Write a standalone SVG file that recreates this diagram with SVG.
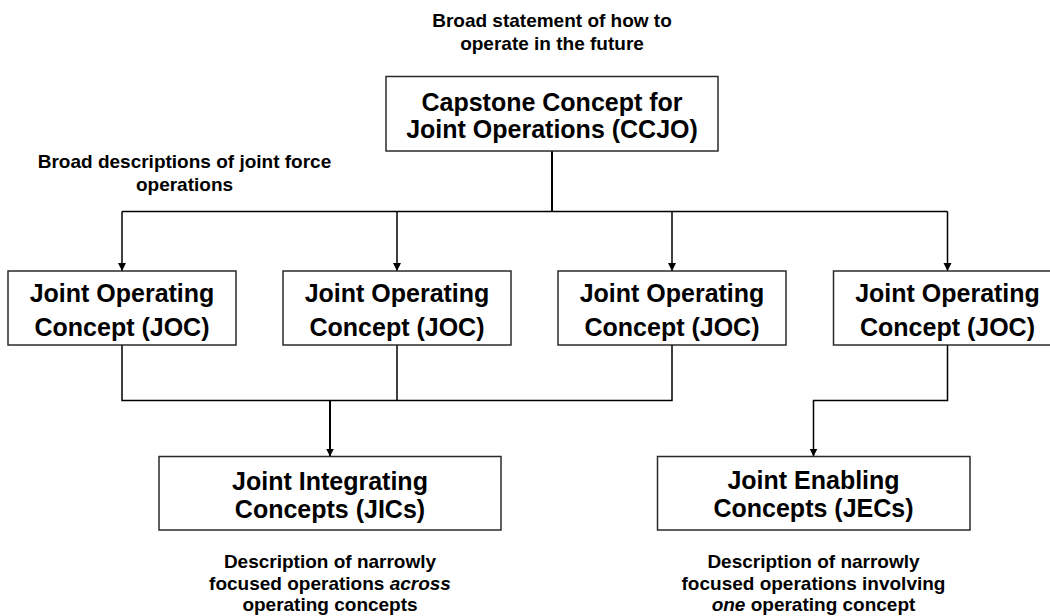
<svg xmlns="http://www.w3.org/2000/svg" width="1050" height="616" viewBox="0 0 1050 616">
  <defs>
    <marker id="arrow" markerUnits="userSpaceOnUse" markerWidth="9" markerHeight="9" refX="8" refY="4" orient="auto">
      <path d="M0,0 L8,4 L0,8 z" fill="#000"/>
    </marker>
    <style>
      text { font-family: "Liberation Sans", Arial, sans-serif; font-weight: bold; fill: #000; text-anchor: middle; }
      .node { font-size: 25px; }
      .note { font-size: 19px; }
      .box { fill: #fff; stroke: #2a2a2a; stroke-width: 1.5; }
      .link { fill: none; stroke: #000; stroke-width: 1.5; }
      .trunk { fill: none; stroke: #000; stroke-width: 2; }
      .em { font-style: italic; }
    </style>
  </defs>

  <rect width="1050" height="616" fill="#fff"/>

  <!-- connectors -->
  <g id="connectors">
    <path class="trunk" d="M552,151 V211.5"/>
    <path class="link" d="M122,211.5 H947.5"/>
    <path class="link" d="M122,211.5 V271" marker-end="url(#arrow)"/>
    <path class="link" d="M397,211.5 V271" marker-end="url(#arrow)"/>
    <path class="link" d="M672,211.5 V271" marker-end="url(#arrow)"/>
    <path class="link" d="M947.5,211.5 V271" marker-end="url(#arrow)"/>
    <path class="link" d="M122,345 V400.5 H672 V345"/>
    <path class="link" d="M397,345 V400.5"/>
    <path class="trunk" d="M330,400.5 V456.5" marker-end="url(#arrow)"/>
    <path class="link" d="M947.5,345 V400.5 H813.5 V456.5" marker-end="url(#arrow)"/>
  </g>

  <!-- annotations -->
  <g id="note-ccjo">
    <text class="note" x="552" y="27">Broad statement of how to</text>
    <text class="note" x="552" y="50">operate in the future</text>
  </g>
  <g id="note-joc">
    <text class="note" x="184.5" y="168">Broad descriptions of joint force</text>
    <text class="note" x="184.5" y="190.5">operations</text>
  </g>
  <g id="note-jic">
    <text class="note" x="330" y="568">Description of narrowly</text>
    <text class="note" x="330" y="589.5">focused operations <tspan class="em">across</tspan></text>
    <text class="note" x="330" y="611">operating concepts</text>
  </g>
  <g id="note-jec">
    <text class="note" x="813.5" y="568">Description of narrowly</text>
    <text class="note" x="813.5" y="589.5">focused operations involving</text>
    <text class="note" x="813.5" y="611"><tspan class="em">one</tspan> operating concept</text>
  </g>

  <!-- nodes -->
  <g id="ccjo">
    <rect class="box" x="386" y="76.5" width="332" height="74.5"/>
    <text class="node" x="552" y="110.5">Capstone Concept for</text>
    <text class="node" x="552" y="138">Joint Operations (CCJO)</text>
  </g>
  <g id="joc1">
    <rect class="box" x="8" y="271" width="228" height="74"/>
    <text class="node" x="122" y="302">Joint Operating</text>
    <text class="node" x="122" y="335.5">Concept (JOC)</text>
  </g>
  <g id="joc2">
    <rect class="box" x="283" y="271" width="228" height="74"/>
    <text class="node" x="397" y="302">Joint Operating</text>
    <text class="node" x="397" y="335.5">Concept (JOC)</text>
  </g>
  <g id="joc3">
    <rect class="box" x="558" y="271" width="228" height="74"/>
    <text class="node" x="672" y="302">Joint Operating</text>
    <text class="node" x="672" y="335.5">Concept (JOC)</text>
  </g>
  <g id="joc4">
    <rect class="box" x="833.5" y="271" width="228" height="74"/>
    <text class="node" x="947.5" y="302">Joint Operating</text>
    <text class="node" x="947.5" y="335.5">Concept (JOC)</text>
  </g>
  <g id="jic">
    <rect class="box" x="159" y="456.5" width="342" height="73.5"/>
    <text class="node" x="330" y="489.5">Joint Integrating</text>
    <text class="node" x="330" y="517.5">Concepts (JICs)</text>
  </g>
  <g id="jec">
    <rect class="box" x="657.5" y="456.5" width="312.5" height="73.5"/>
    <text class="node" x="813.5" y="489">Joint Enabling</text>
    <text class="node" x="813.5" y="517">Concepts (JECs)</text>
  </g>
</svg>
